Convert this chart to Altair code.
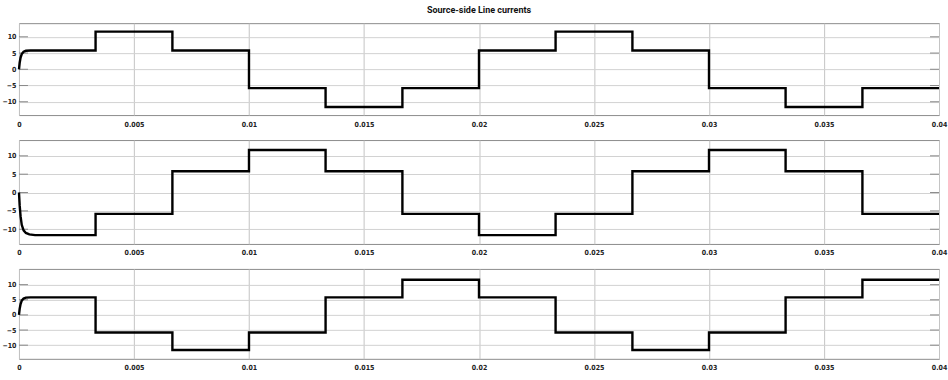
import altair as alt
import pandas as pd

# Switching instants of the six-step currents (s)
t_steps = [0, 0.00333, 0.00667, 0.01, 0.01333, 0.01667, 0.02,
           0.02333, 0.02667, 0.03, 0.03333, 0.03667, 0.04]

# Current level held over each interval (A)
ia_levels = [5.8, 11.6, 5.8, -5.8, -11.6, -5.8, 5.8, 11.6, 5.8, -5.8, -11.6, -5.8]
ib_levels = [-11.6, -5.8, 5.8, 11.6, 5.8, -5.8, -11.6, -5.8, 5.8, 11.6, 5.8, -5.8]
ic_levels = [5.8, -5.8, -11.6, -5.8, 5.8, 11.6, 5.8, -5.8, -11.6, -5.8, 5.8, 11.6]

# Start-up transient samples (s, A)
ta_start = [0, 0.00003, 0.00007, 0.00012, 0.0002, 0.0003, 0.0005]
ia_start = [0, 2.0, 3.6, 4.7, 5.4, 5.7, 5.8]
tb_start = [0, 0.00003, 0.00007, 0.00012, 0.0002, 0.0003, 0.00045, 0.0007]
ib_start = [0, -3.5, -6.5, -8.8, -10.3, -11.0, -11.4, -11.6]
tc_start = [0, 0.00003, 0.00007, 0.00012, 0.0002, 0.0003, 0.0005]
ic_start = [0, 2.0, 3.6, 4.7, 5.4, 5.7, 5.8]

# Axis ticks
x_ticks = [0, 0.005, 0.01, 0.015, 0.02, 0.025, 0.03, 0.035, 0.04]
y_ticks = [-10, -5, 0, 5, 10]

# Vertical range of each scope panel
y_domains = [[-14.1, 14.2], [-14.0, 14.3], [-14.5, 15.2]]
panel_heights = [92, 104, 90]

FONT = "DejaVu Sans Condensed"
TITLE_FONT = "Roboto"


def trace(t_start, i_start, levels):
    ts = list(t_start)
    vs = list(i_start)
    for k, lvl in enumerate(levels):
        if k > 0:
            ts.append(t_steps[k])
            vs.append(lvl)
        ts.append(t_steps[k + 1])
        vs.append(lvl)
    return pd.DataFrame({"t": ts, "i": vs, "n": range(len(ts))})


def panel(df, dom, h, title=None):
    x = alt.X("t:Q", scale=alt.Scale(domain=[0, 0.04], nice=False, zero=False),
              axis=alt.Axis(values=x_ticks, format="~g", title=None, ticks=False,
                            domain=False, gridColor="#c4c4c4", labelPadding=5,
                            labelFlush=False))
    y = alt.Y("i:Q", scale=alt.Scale(domain=dom, nice=False, zero=False),
              axis=alt.Axis(values=y_ticks, title=None, ticks=False, domain=False,
                            gridColor="#d2d2d2", labelPadding=3))
    line = alt.Chart(df).mark_line(color="black", strokeWidth=2.4,
                                   strokeJoin="miter").encode(x=x, y=y, order="n:Q")
    # short inward tick marks on both vertical edges
    tick_df = pd.DataFrame({"i": y_ticks})
    left_t = alt.Chart(tick_df).mark_rule(color="#8a8a8a", strokeWidth=1).encode(
        x=alt.value(0), x2=alt.value(9), y=y)
    right_t = alt.Chart(tick_df).mark_rule(color="#8a8a8a", strokeWidth=1).encode(
        x=alt.value(912), x2=alt.value(921), y=y)
    props = dict(width=921, height=h)
    if title:
        props["title"] = alt.TitleParams(title, anchor="middle", font=TITLE_FONT,
                                         fontSize=9, fontWeight="bold",
                                         color="#111", offset=8)
    return alt.layer(left_t, right_t, line).properties(**props)


pa = panel(trace(ta_start, ia_start, ia_levels), y_domains[0], panel_heights[0],
           "Source-side Line currents")
pb = panel(trace(tb_start, ib_start, ib_levels), y_domains[1], panel_heights[1])
pc = panel(trace(tc_start, ic_start, ic_levels), y_domains[2], panel_heights[2])

chart = alt.vconcat(pa, pb, pc, spacing=11).properties(
    padding={"left": 1, "top": 5, "right": 0, "bottom": 0},
    background="white",
).configure_view(stroke="#8c8c8c", strokeWidth=1).configure_axis(
    labelFont=FONT, labelFontSize=7, labelColor="#222", labelFontWeight="bold",
    gridWidth=1,
)

chart.save("out.html", embed_options={"renderer": "svg", "actions": False})
